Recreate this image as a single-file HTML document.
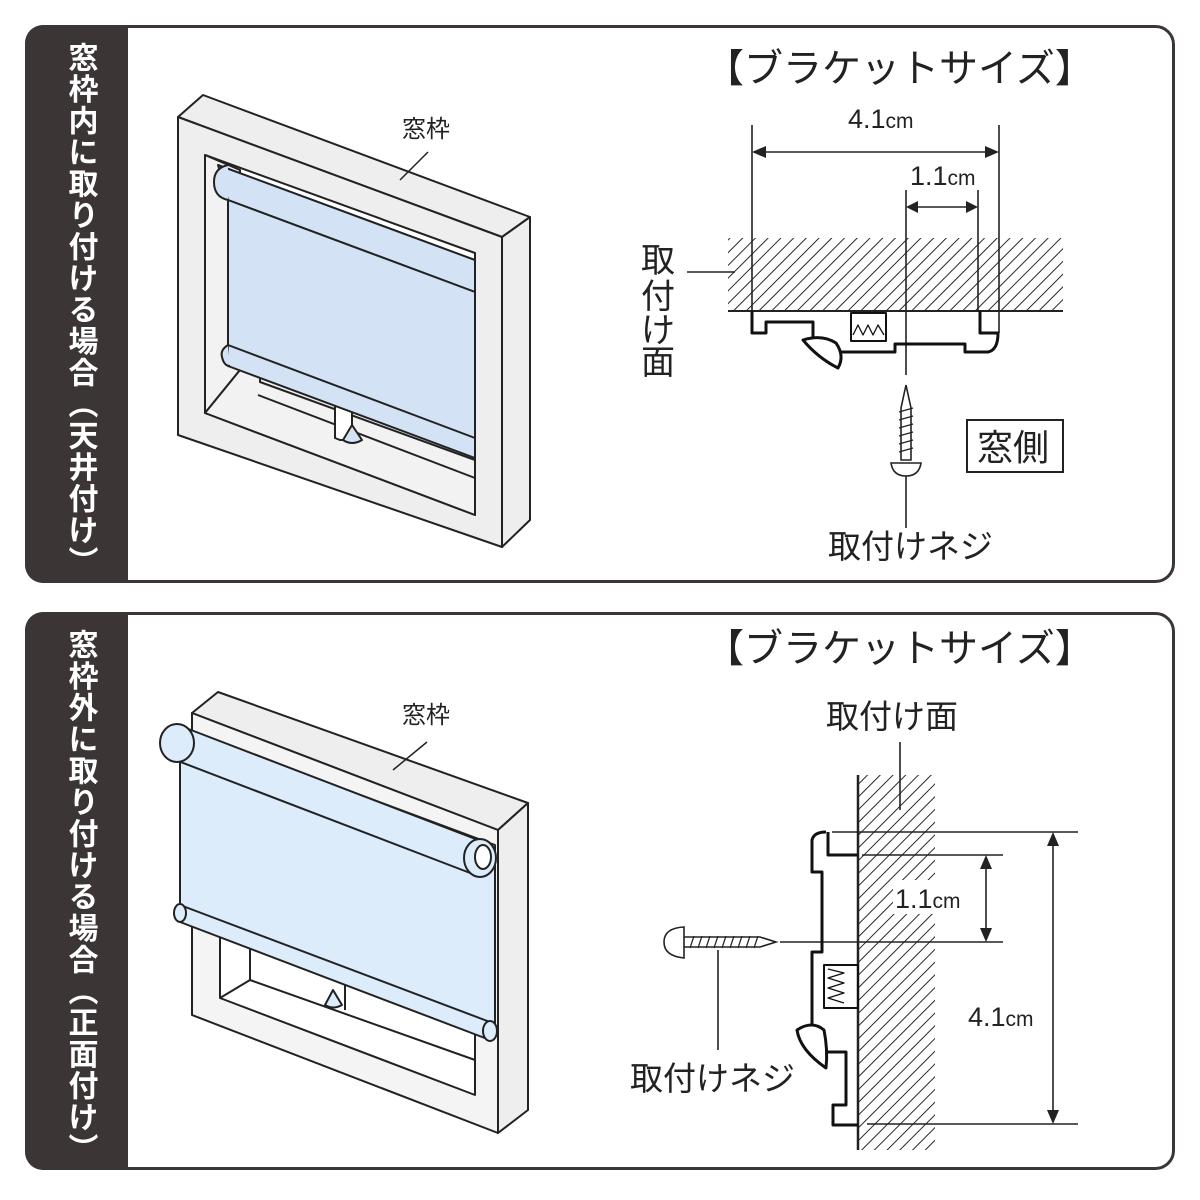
<!DOCTYPE html>
<html><head><meta charset="utf-8"><style>
html,body{margin:0;padding:0;background:#fff;}
svg{display:block;}
text{font-family:"Liberation Sans","Noto Sans CJK JP",sans-serif;}
</style></head><body>
<svg width="1200" height="1200" viewBox="0 0 1200 1200" xmlns="http://www.w3.org/2000/svg">
<defs>
<pattern id="h" width="9" height="9" patternUnits="userSpaceOnUse" patternTransform="rotate(45)">
<line x1="0" y1="0" x2="0" y2="9" stroke="#111" stroke-width="1.8"/>
</pattern>
<clipPath id="c1"><rect x="25" y="25" width="1150" height="558" rx="18"/></clipPath>
<clipPath id="c2"><rect x="25" y="612" width="1150" height="558" rx="18"/></clipPath>
</defs>

<g clip-path="url(#c1)"><rect x="25" y="25" width="103" height="558" fill="#3b3536"/></g>
<rect x="26.5" y="26.5" width="1147" height="555" rx="18" fill="none" stroke="#3b3536" stroke-width="3"/>
<g clip-path="url(#c2)"><rect x="25" y="612" width="103" height="558" fill="#3b3536"/></g>
<rect x="26.5" y="613.5" width="1147" height="555" rx="18" fill="none" stroke="#3b3536" stroke-width="3"/>

<text x="80" y="42" fill="#fff" font-size="30" font-weight="bold" style="writing-mode:vertical-rl;letter-spacing:1.5px">窓枠内に取り付ける場合（天井付け）</text>
<text x="80" y="629" fill="#fff" font-size="30" font-weight="bold" style="writing-mode:vertical-rl;letter-spacing:1.5px">窓枠外に取り付ける場合（正面付け）</text>

<!-- TOP ILLUSTRATION -->
<g stroke="#222" stroke-width="2" stroke-linejoin="round" fill="#eeeeee">
<polygon points="178,117 203,95 530,217 502,237"/>
<polygon points="502,237 530,217 530,520 502,547"/>
<polygon points="178,117 502,237 502,547 178,435"/>
<polygon points="205,155 475,253 475,515 205,413" fill="#fff"/>
<polygon points="205,155 240,170 240,370 205,413" fill="#f2f2f2"/>
<polygon points="205,413 240,370 475,450 475,515" fill="#f2f2f2"/>
<polyline points="240,370 260,375 475,452" fill="none"/>
<polyline points="260,375 260,382 475,460" fill="none"/>
<polyline points="258,395 475,478" fill="none"/>
<polygon points="335,395 352,400 352,440 340,440 335,438" fill="#fff"/>
<polygon points="218,165 475,260 475,292 228,200" fill="#d3e3f5"/>
<path d="M228 165 Q214 168 214 182 Q214 197 228 200" fill="#d3e3f5"/>
<polygon points="228,200 475,292 475,450 228,355" fill="#d3e3f5"/>
<polygon points="228,345 475,438 475,458 228,366" fill="#d3e3f5"/>
<path d="M228 345 Q220 350 222 357 Q224 366 230 366" fill="#d3e3f5"/>
<path d="M343 440 L352 425 L362 440 Q352 446 343 440 Z" fill="#d3e3f5"/>
</g>
<line x1="400" y1="180" x2="428" y2="152" stroke="#222" stroke-width="1.5"/>
<text x="402" y="137" font-size="24" fill="#222">窓枠</text>

<!-- TOP RIGHT DIAGRAM -->
<text x="705" y="82" font-size="39" fill="#222">【ブラケットサイズ】</text>
<text x="848" y="128" font-size="27" fill="#222">4.1<tspan font-size="21">cm</tspan></text>
<text x="910" y="185" font-size="27" fill="#222">1.1<tspan font-size="21">cm</tspan></text>
<rect x="728" y="238" width="335" height="73" fill="url(#h)"/>
<line x1="728" y1="311" x2="1063" y2="311" stroke="#222" stroke-width="2"/>
<g stroke="#222" stroke-width="1.6" fill="none">
<line x1="752" y1="125" x2="752" y2="311"/>
<line x1="999" y1="125" x2="999" y2="333"/>
<line x1="906" y1="190" x2="906" y2="375"/>
<line x1="978" y1="190" x2="978" y2="311"/>
<line x1="758" y1="152" x2="993" y2="152"/>
<line x1="912" y1="207" x2="972" y2="207"/>
<line x1="687" y1="272" x2="735" y2="272"/>
<line x1="906" y1="475" x2="906" y2="528"/>
</g>
<g fill="#222">
<polygon points="752,152 766,146 766,158"/><polygon points="999,152 985,146 985,158"/>
<polygon points="906,207 918,201 918,213"/><polygon points="978,207 966,201 966,213"/>
</g>
<text font-size="34" fill="#222"><tspan x="641" y="272">取</tspan><tspan x="641" y="308">付</tspan><tspan x="641" y="342">け</tspan><tspan x="641" y="374">面</tspan></text>
<g stroke="#111" stroke-width="3" fill="none" stroke-linejoin="round">
<polyline points="752,311 752,333 766,333 766,322 813,322 813,345"/>
<path d="M840 352 L895 352 L895 344 L965 344 L965 352 L988 352 Q998 350 998 333 L980 333 L980 311"/>
<path d="M803 340 Q822 334 836 343 Q845 356 838 368 Q818 358 803 340 Z" fill="#fff"/>
<rect x="851" y="313" width="35" height="28" stroke-width="2"/>
<polyline points="853,335 858,325 863,335 868,325 873,335 878,325 884,335" stroke-width="1.3"/>
</g>
<path d="M906 385 L901 408 L901 460 L911 460 L911 408 Z" fill="#fff" stroke="#222" stroke-width="1.6"/>
<g stroke="#222" stroke-width="1.2"><line x1="899" y1="412" x2="913" y2="408"/><line x1="899" y1="420" x2="913" y2="416"/><line x1="899" y1="428" x2="913" y2="424"/><line x1="899" y1="436" x2="913" y2="432"/><line x1="899" y1="444" x2="913" y2="440"/><line x1="899" y1="452" x2="913" y2="448"/></g>
<path d="M891 463 L921 463 Q919 476 906 476 Q893 476 891 463 Z" fill="#fff" stroke="#222" stroke-width="1.6"/>
<rect x="967" y="420" width="96" height="52" fill="none" stroke="#222" stroke-width="2"/>
<text x="977" y="460" font-size="36" fill="#222">窓側</text>
<text x="828" y="558" font-size="33" fill="#222">取付けネジ</text>

<!-- BOTTOM ILLUSTRATION -->
<g stroke="#222" stroke-width="2" stroke-linejoin="round" fill="#eeeeee">
<polygon points="192,713 218,692 528,803 498,830"/>
<polygon points="498,830 528,803 528,1110 498,1133"/>
<polygon points="192,713 498,830 498,1133 192,1015" fill="#f4f4f4"/>
<polygon points="220,935 475,1030 475,1095 220,998" fill="#fff"/>
<polyline points="220,998 250,980 475,1060" fill="none"/>
<polyline points="250,935 250,980" fill="none"/>
<polyline points="270,950 345,975 345,1010" fill="none"/>
<polyline points="363,988 475,1030" fill="none"/>
<polygon points="180,728 495,845 495,1030 180,905" fill="#dcecfb"/>
<polygon points="178,725 478,840 478,876 178,761" fill="#dcecfb"/>
<ellipse cx="177" cy="743" rx="17" ry="19" fill="#dcecfb"/>
<ellipse cx="480" cy="858" rx="16" ry="19" fill="#dcecfb"/>
<ellipse cx="483" cy="857" rx="8" ry="12" fill="#fff"/>
<polygon points="180,905 490,1022 490,1040 180,922" fill="#dcecfb"/>
<ellipse cx="180" cy="913" rx="6" ry="9" fill="#dcecfb"/>
<ellipse cx="490" cy="1031" rx="7" ry="10" fill="#dcecfb"/>
<path d="M325 1005 L333 990 L342 1005 Q333 1010 325 1005 Z" fill="#dcecfb"/>
</g>
<line x1="393" y1="770" x2="427" y2="742" stroke="#222" stroke-width="1.5"/>
<text x="402" y="723" font-size="24" fill="#222">窓枠</text>

<!-- BOTTOM RIGHT DIAGRAM -->
<text x="705" y="662" font-size="39" fill="#222">【ブラケットサイズ】</text>
<text x="826" y="728" font-size="33" fill="#222">取付け面</text>
<rect x="858" y="775" width="77" height="375" fill="url(#h)"/>
<line x1="858" y1="775" x2="858" y2="1150" stroke="#222" stroke-width="2.5"/>
<g stroke="#222" stroke-width="1.6" fill="none">
<line x1="900" y1="742" x2="900" y2="810"/>
<line x1="832" y1="832" x2="1078" y2="832"/>
<line x1="862" y1="855" x2="1003" y2="855"/>
<line x1="780" y1="942" x2="1003" y2="942"/>
<line x1="867" y1="1124" x2="1078" y2="1124"/>
<line x1="986" y1="862" x2="986" y2="935"/>
<line x1="1053" y1="840" x2="1053" y2="1116"/>
<line x1="718" y1="950" x2="718" y2="1050"/>
</g>
<g fill="#222">
<polygon points="986,855 980,869 992,869"/><polygon points="986,942 980,928 992,928"/>
<polygon points="1053,832 1047,846 1059,846"/><polygon points="1053,1124 1047,1110 1059,1110"/>
</g>
<rect x="893" y="880" width="80" height="34" fill="#fff"/>
<text x="895" y="908" font-size="27" fill="#222">1.1<tspan font-size="21">cm</tspan></text>
<text x="968" y="1026" font-size="27" fill="#222">4.1<tspan font-size="21">cm</tspan></text>
<g stroke="#111" stroke-width="3" fill="none" stroke-linejoin="round">
<polyline points="828,832 828,855 858,855"/>
<path d="M826 832 Q814 832 812 840 L812 872 L822 872 L822 952 L812 952 L812 1025"/>
<polyline points="826,1052 846,1052 846,1105 833,1105 833,1125 858,1125"/>
<path d="M797 1030 Q812 1020 824 1030 Q828 1050 826 1068 Q800 1050 797 1030 Z" fill="#fff"/>
<rect x="824" y="965" width="34" height="43" stroke-width="2"/>
<polyline points="828,969 844,973 828,978 844,983 828,988 844,993 828,998 844,1003" stroke-width="1.3"/>
</g>
<path d="M683 937 L760 937 L776 942 L760 947 L683 947 Z" fill="#fff" stroke="#222" stroke-width="1.6"/>
<g stroke="#222" stroke-width="1.2"><line x1="690" y1="948" x2="694" y2="936"/><line x1="698" y1="948" x2="702" y2="936"/><line x1="706" y1="948" x2="710" y2="936"/><line x1="714" y1="948" x2="718" y2="936"/><line x1="722" y1="948" x2="726" y2="936"/><line x1="730" y1="948" x2="734" y2="936"/><line x1="738" y1="948" x2="742" y2="936"/><line x1="746" y1="948" x2="750" y2="936"/><line x1="754" y1="948" x2="758" y2="936"/></g>
<path d="M684 927 L684 958 Q664 956 664 942 Q664 928 684 927 Z" fill="#fff" stroke="#222" stroke-width="1.6"/>
<text x="630" y="1090" font-size="33" fill="#222">取付けネジ</text>
</svg>
</body></html>
